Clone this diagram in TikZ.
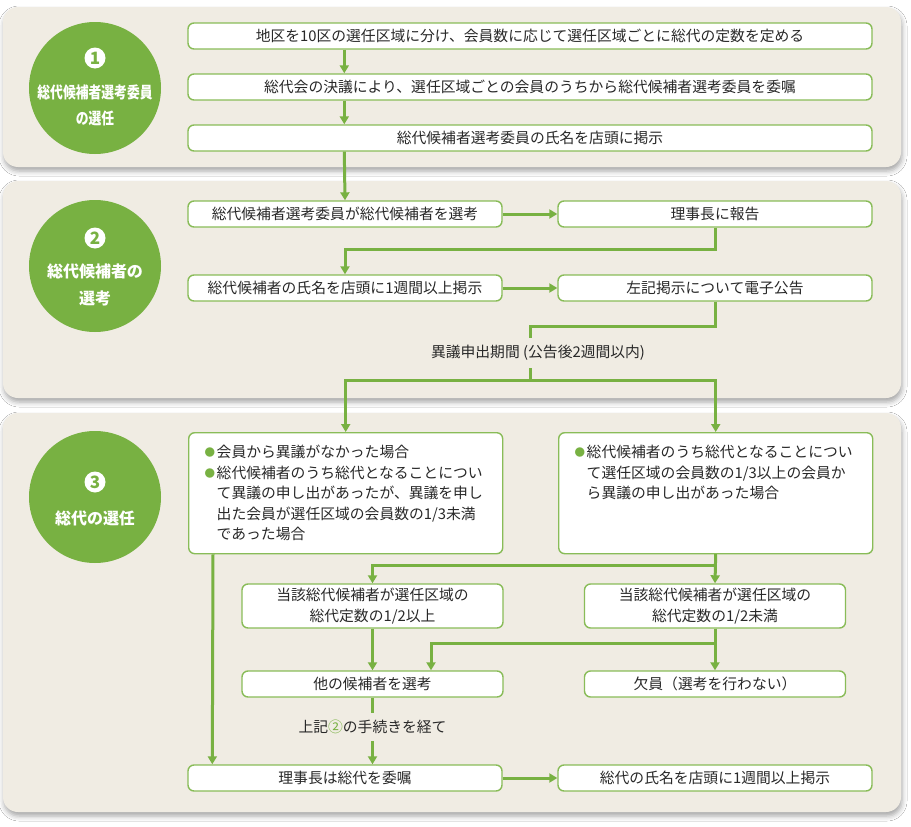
\documentclass[tikz,border=0pt]{standalone}
\usepackage{fontspec}
\usepackage{graphicx}
\setmainfont{Noto Sans CJK JP}
\usetikzlibrary{arrows.meta,calc,shadows.blur}

\definecolor{gr}{RGB}{120,177,66}
\definecolor{bgr}{RGB}{137,188,88}
\definecolor{panelbg}{RGB}{240,236,227}
\definecolor{txt}{RGB}{40,40,40}

\newcommand{\gbul}{\makebox[12pt][l]{\textcolor{gr}{\fontsize{10.5}{10.5}\selectfont\raisebox{1pt}{●}}}}
\newcommand{\gind}{\hspace*{12pt}}

\tikzset{
  panelbox/.style={fill=panelbg, rounded corners=15pt,
    blur shadow={shadow xshift=1pt, shadow yshift=-4pt, shadow blur radius=5pt, shadow opacity=35}},
  stagecircle/.style={circle, fill=gr, minimum size=132pt, inner sep=0pt},
  numdisc/.style={circle, fill=white, minimum size=21pt, inner sep=0pt, text=gr,
    font=\fontsize{17}{17}\selectfont\bfseries},
  ctext/.style={text=white, font=\fontsize{16}{16}\selectfont\bfseries, inner sep=0pt},
  sbox/.style={draw=bgr, line width=1.4pt, fill=white, rounded corners=6pt, inner sep=0pt,
    text=txt, font=\fontsize{14.8}{20.5}\selectfont},
  widebox/.style={sbox, minimum width=684pt, minimum height=26pt},
  colbox/.style={sbox, minimum width=314pt, minimum height=26pt},
  narbox/.style={sbox, minimum width=261pt, minimum height=26pt},
  bigbox/.style={sbox, minimum width=314pt, minimum height=121pt, text width=282pt,
    inner xsep=16pt, align=left, anchor=north west},
  flow/.style={draw=gr, line width=3pt, -{Triangle[width=9pt,length=8pt]}},
  flowline/.style={draw=gr, line width=3pt},
  lbl/.style={text=txt, font=\fontsize{14.8}{20}\selectfont, inner sep=0pt},
}

\begin{document}
\begin{tikzpicture}[x=1pt,y=-1pt]
\fill[white] (0,0) rectangle (911,827);
\useasboundingbox (0,0) rectangle (911,827);

% panels
\path[panelbox] (3,7) rectangle (901,167);
\path[panelbox] (3,181) rectangle (901,398);
\path[panelbox] (3,413) rectangle (901,812);

% stage circles
\node[stagecircle] (s1) at (95,88) {};
\node[numdisc] (n1) at (95,58) {1};
\node[ctext] (s1a) at (95,92) {\scalebox{0.8}[1]{総代候補者選考委員}};
\node[ctext] (s1b) at (95,118) {\scalebox{0.8}[1]{の選任}};

\node[stagecircle] (s2) at (95,266) {};
\node[numdisc] (n2) at (95,238) {2};
\node[ctext] (s2a) at (95,271) {総代候補者の};
\node[ctext] (s2b) at (95,298) {選考};

\node[stagecircle] (s3) at (95,497) {};
\node[numdisc] (n3) at (95,482) {3};
\node[ctext] (s3a) at (95,518) {総代の選任};

% panel 1 boxes
\node[widebox] (b11) at (530,36) {地区を10区の選任区域に分け、会員数に応じて選任区域ごとに総代の定数を定める};
\node[widebox] (b12) at (530,87) {総代会の決議により、選任区域ごとの会員のうちから総代候補者選考委員を委嘱};
\node[widebox] (b13) at (530,138) {総代候補者選考委員の氏名を店頭に掲示};

% panel 2 boxes
\node[colbox] (b21) at (345,214) {総代候補者選考委員が総代候補者を選考};
\node[colbox] (b22) at (715,214) {理事長に報告};
\node[colbox] (b23) at (345,288) {総代候補者の氏名を店頭に1週間以上掲示};
\node[colbox] (b24) at (715,288) {左記掲示について電子公告};
\node[lbl, minimum height=30pt] (lbl1) at (538,353) {異議申出期間 (公告後2週間以内)};

% panel 3 boxes
\node[bigbox] (b31) at (188,432) {\gbul 会員から異議がなかった場合\\\gbul 総代候補者のうち総代となることについ\\\gind て異議の申し出があったが、異議を申し\\\gind 出た会員が選任区域の会員数の1/3未満\\\gind であった場合};
\node[bigbox] (b32) at (558,432) {\gbul 総代候補者のうち総代となることについ\\\gind て選任区域の会員数の1/3以上の会員か\\\gind ら異議の申し出があった場合\\\phantom{会}\\\phantom{会}};
\node[narbox, minimum height=44pt, align=center] (b33) at (372.5,606) {当該総代候補者が選任区域の\\総代定数の1/2以上};
\node[narbox, minimum height=44pt, align=center] (b34) at (715,606) {当該総代候補者が選任区域の\\総代定数の1/2未満};
\node[narbox] (b35) at (372.5,684) {他の候補者を選考};
\node[narbox] (b36) at (715,684) {欠員（選考を行わない）};
\node[lbl, minimum height=28pt] (lbl2) at (372.5,727) {上記\textcolor{gr}{②}の手続きを経て};
\node[colbox] (b37) at (345,778) {理事長は総代を委嘱};
\node[colbox] (b38) at (715,778) {総代の氏名を店頭に1週間以上掲示};

% connectors panel 1
\draw[flow] ([xshift=157pt]b11.south west) -- ([xshift=157pt]b12.north west);
\draw[flow] ([xshift=157pt]b12.south west) -- ([xshift=157pt]b13.north west);
\draw[flow] ([xshift=157pt]b13.south west) -- (b21.north);

% connectors panel 2
\draw[flow] (b21) -- (b22);
\draw[flow] (b22.south) -- ++(0,22) -| (b23.north);
\draw[flow] (b23) -- (b24);
\coordinate (q1) at (530,326);
\coordinate (q4) at (530,380);
\draw[flowline] (b24.south) |- (q1) -- (q1 |- lbl1.north);
\draw[flow] (q4 |- lbl1.south) -- (q4) -| (b31.north);
\draw[flow] (q4) -| (b32.north);

% connectors panel 3
\draw[flow] ([xshift=25pt]b31.south west) -- ([xshift=25pt]b37.north west);
\draw[flow] (b32.south) -- ++(0,11) -| (b33.north);
\draw[flow] (b32.south) -- (b34.north);
\draw[flow] (b33.south) -- (b35.north);
\draw[flow] (b34.south) -- ++(0,15) -| ([xshift=58.5pt]b35.north);
\draw[flow] (b34.south) -- (b36.north);
\draw[flowline] (b35.south) -- (lbl2.north);
\draw[flow] (lbl2.south) -- (lbl2.south |- b37.north);
\draw[flow] (b37) -- (b38);
\end{tikzpicture}
\end{document}
